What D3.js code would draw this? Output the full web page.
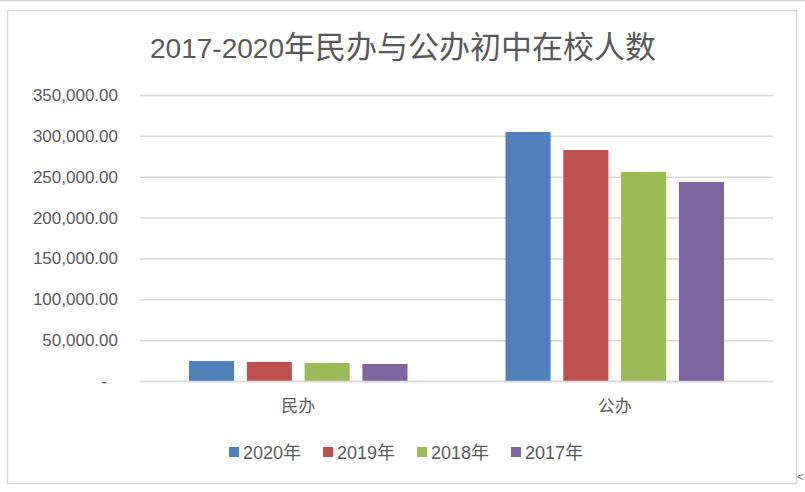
<!DOCTYPE html>
<html><head><meta charset="utf-8">
<script src="https://cdn.jsdelivr.net/npm/d3@7"></script>
<style>body{margin:0;background:#fff;} svg{display:block;}</style>
</head><body>
<svg id="c" width="805" height="492"></svg>
<script>
const categories = ["民办", "公办"];
const seriesNames = ["2020年", "2019年", "2018年", "2017年"];
const values2020 = [24500, 304700];
const values2019 = [23300, 282700];
const values2018 = [22000, 255800];
const values2017 = [20800, 243500];
const seriesValues = [values2020, values2019, values2018, values2017];
const yTicks = [0, 50000, 100000, 150000, 200000, 250000, 300000, 350000];
const colors = ["#4F81BD", "#C0504D", "#9BBB59", "#8064A2"];

const svg = d3.select("#c");
const textColor = "#595959";
const font = "'Liberation Sans', 'Noto Sans CJK SC', sans-serif";

// outer lines
svg.append("line").attr("x1",0).attr("x2",805).attr("y1",0.5).attr("y2",0.5).attr("stroke","#D0D0D0").attr("stroke-width",1.5);
svg.append("rect").attr("x",7.5).attr("y",10.5).attr("width",789).attr("height",473)
  .attr("fill","none").attr("stroke","#D9D9D9").attr("stroke-width",1.5);

const plot = {left:140, right:773, top:95, bottom:381};
const y = d3.scaleLinear().domain([0,350000]).range([plot.bottom, plot.top]);
const x0 = d3.scaleBand().domain(categories).range([plot.left, plot.right]).paddingInner(0).paddingOuter(0);
const x1 = d3.scaleBand().domain(seriesNames).range([49, x0.bandwidth()-49]).paddingInner(0.22).paddingOuter(0);

// gridlines
const yAxis = d3.axisLeft(y).tickValues(yTicks).tickSize(-(plot.right-plot.left))
  .tickFormat(d => d === 0 ? "-" : d3.format(",.2f")(d)).tickPadding(22);
const gy = svg.append("g").attr("transform",`translate(${plot.left},0)`).call(yAxis);
gy.select(".domain").remove();
gy.selectAll(".tick line").attr("stroke","#D9D9D9").attr("stroke-width",1.5);
gy.selectAll(".tick text").attr("fill",textColor).attr("font-family",font).attr("font-size","17px");
gy.selectAll(".tick").filter(d=>d===0).select("text").attr("dx","-11");

// bars
const groups = svg.append("g").selectAll("g").data(categories).join("g")
  .attr("transform", d => `translate(${x0(d)},0)`);
groups.selectAll("rect").data((d,i) => seriesNames.map((s,j)=>({s, v: seriesValues[j][i], c: colors[j]})))
  .join("rect")
  .attr("x", d => x1(d.s)).attr("width", x1.bandwidth())
  .attr("y", d => y(d.v)).attr("height", d => y(0)-y(d.v))
  .attr("fill", d => d.c);

// category axis
const xAxis = d3.axisBottom(x0).tickSize(0).tickPadding(19);
const gx = svg.append("g").attr("transform",`translate(0,${plot.bottom})`).call(xAxis);
gx.select(".domain").attr("stroke","#D9D9D9").attr("stroke-width",1.5);
gx.selectAll(".tick text").attr("fill",textColor).attr("font-family",font).attr("font-size","17px");

// title
const t = svg.append("text").attr("x",403).attr("y",58).attr("text-anchor","middle").attr("fill",textColor);
t.append("tspan").attr("font-family","'Liberation Sans', sans-serif").attr("font-size","28px").text("2017-2020");
t.append("tspan").attr("font-family","'Noto Sans CJK SC', sans-serif").attr("font-size","31px").text("年民办与公办初中在校人数");

// legend
const lg = svg.append("g").attr("transform","translate(229,447)");
const items = lg.selectAll("g").data(seriesNames).join("g").attr("transform",(d,i)=>`translate(${i*94},0)`);
items.append("rect").attr("width",10).attr("height",10).attr("fill",(d,i)=>colors[i]);
items.append("text").attr("x",14).attr("y",11.5).attr("fill",textColor).attr("font-family",font).attr("font-size","18px").text(d=>d);

svg.append("text").attr("x",797).attr("y",481).attr("fill","#888").attr("font-family",font).attr("font-size","12px").text("<");
</script>
</body></html>
